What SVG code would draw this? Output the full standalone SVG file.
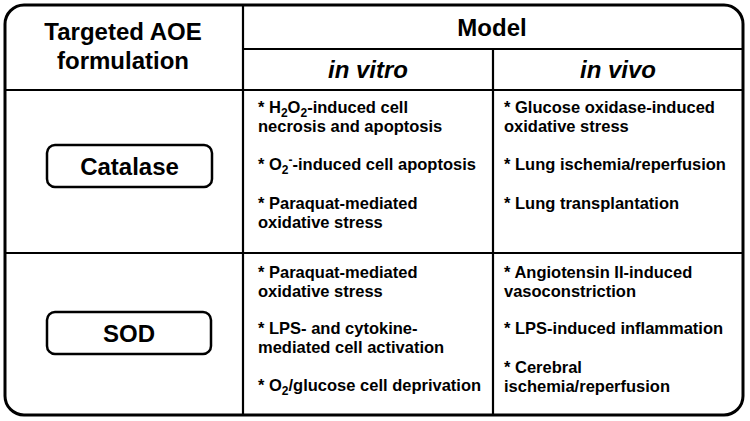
<svg xmlns="http://www.w3.org/2000/svg" width="750" height="421" viewBox="0 0 750 421">
<style>
.h{font-family:"Liberation Sans",Arial,sans-serif;font-weight:bold;font-size:24px;fill:#000;text-anchor:middle}
.hi{font-style:italic}
.t{font-family:"Liberation Sans",Arial,sans-serif;font-weight:bold;font-size:16.5px;fill:#000}
.s{font-size:12px}
.ln{stroke:#000;stroke-width:2.2;fill:none}
.box{fill:#fff;stroke:#000;stroke-width:2.5}
</style>
<rect x="0" y="0" width="750" height="421" fill="#fff"/>
<g id="grid">
<rect x="5" y="5" width="738" height="410" rx="19" ry="19" fill="none" stroke="#000" stroke-width="3"/>
<line class="ln" x1="243" y1="5" x2="243" y2="415"/>
<line class="ln" x1="493" y1="49" x2="493" y2="415"/>
<line class="ln" x1="243" y1="49" x2="743" y2="49"/>
<line class="ln" x1="5" y1="90" x2="743" y2="90" stroke-width="2.8"/>
<line class="ln" x1="5" y1="253" x2="743" y2="253"/>
</g>
<g id="headers">
<text class="h" x="123" y="40">Targeted AOE</text>
<text class="h" x="123" y="69">formulation</text>
<text class="h" x="492" y="36">Model</text>
<text class="h hi" x="368" y="78">in vitro</text>
<text class="h hi" x="618" y="78">in vivo</text>
</g>
<g id="catalase">
<rect class="box" x="47" y="145" width="165" height="42" rx="8"/>
<text class="h" x="129.5" y="175">Catalase</text>
</g>
<g id="sod">
<rect class="box" x="47" y="312" width="164" height="42" rx="8"/>
<text class="h" x="129" y="342">SOD</text>
</g>
<g id="catalase-invitro">
<text class="t" x="258" y="113">* H<tspan class="s" dy="4">2</tspan><tspan dy="-4">O</tspan><tspan class="s" dy="4">2</tspan><tspan dy="-4">-induced cell</tspan></text>
<text class="t" x="258" y="132">necrosis and apoptosis</text>
<text class="t" x="258" y="170">* O<tspan class="s" dy="4">2</tspan><tspan class="s" dy="-10">-</tspan><tspan dy="6">-induced cell apoptosis</tspan></text>
<text class="t" x="258" y="209">* Paraquat-mediated</text>
<text class="t" x="258" y="228">oxidative stress</text>
</g>
<g id="catalase-invivo">
<text class="t" x="504" y="113">* Glucose oxidase-induced</text>
<text class="t" x="504" y="132">oxidative stress</text>
<text class="t" x="504" y="170">* Lung ischemia/reperfusion</text>
<text class="t" x="504" y="209">* Lung transplantation</text>
</g>
<g id="sod-invitro">
<text class="t" x="258" y="278">* Paraquat-mediated</text>
<text class="t" x="258" y="297">oxidative stress</text>
<text class="t" x="258" y="334">* LPS- and cytokine-</text>
<text class="t" x="258" y="353">mediated cell activation</text>
<text class="t" x="258" y="391">* O<tspan class="s" dy="4">2</tspan><tspan dy="-4">/glucose cell deprivation</tspan></text>
</g>
<g id="sod-invivo">
<text class="t" x="504" y="278">* Angiotensin II-induced</text>
<text class="t" x="504" y="297">vasoconstriction</text>
<text class="t" x="504" y="334">* LPS-induced inflammation</text>
<text class="t" x="504" y="373">* Cerebral</text>
<text class="t" x="504" y="392">ischemia/reperfusion</text>
</g>
</svg>
